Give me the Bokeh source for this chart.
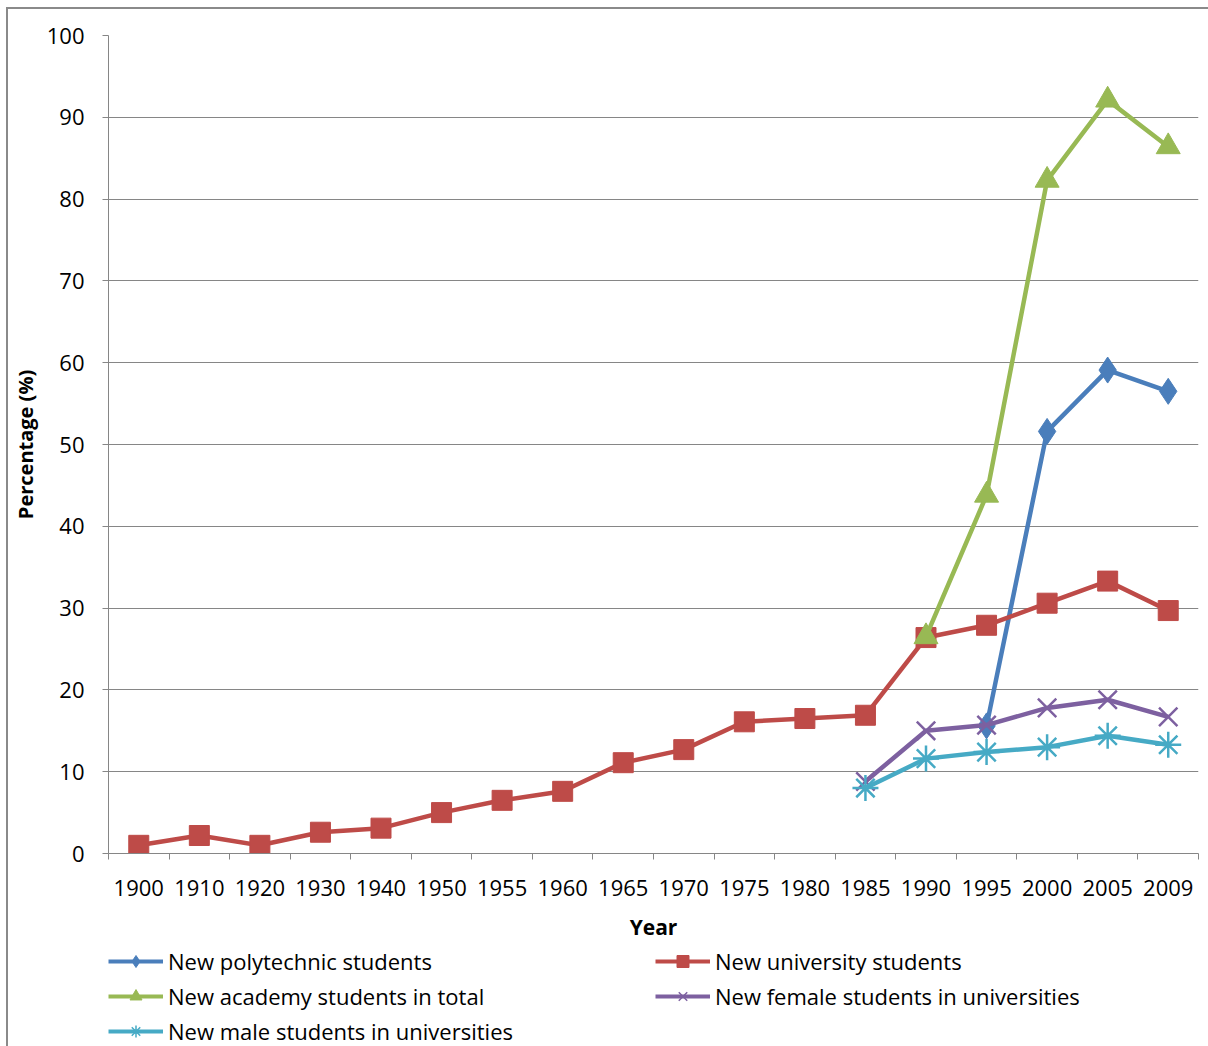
from bokeh.plotting import figure
from bokeh.layouts import column
from bokeh.models import Range1d, FixedTicker, Legend, LegendItem
from bokeh.embed import file_html
from bokeh.resources import INLINE

nan = float("nan")

years = ["1900", "1910", "1920", "1930", "1940", "1950", "1955", "1960", "1965",
         "1970", "1975", "1980", "1985", "1990", "1995", "2000", "2005", "2009"]

polytechnic = [nan] * 14 + [15.6, 51.6, 59.1, 56.5]
university = [1.0, 2.2, 1.0, 2.6, 3.1, 5.0, 6.5, 7.6, 11.1, 12.7, 16.1, 16.5,
              16.9, 26.4, 27.9, 30.6, 33.3, 29.7]
academy = [nan] * 13 + [26.5, 43.8, 82.3, 92.1, 86.4]
female = [nan] * 12 + [8.8, 15.0, 15.7, 17.8, 18.8, 16.7]
male = [nan] * 12 + [8.0, 11.6, 12.4, 13.0, 14.4, 13.3]

y_ticks = list(range(0, 101, 10))

FONT = "Open Sans"
GRAY = "#868686"

xs = list(range(len(years)))

p = figure(frame_width=1090, frame_height=818, output_backend="svg", toolbar_location=None,
           x_range=Range1d(-0.5, len(years) - 0.5), y_range=Range1d(0, 100))
p.min_border_left = 100
p.min_border_right = 10
p.min_border_top = 26
p.min_border_bottom = 0
p.outline_line_color = None
p.background_fill_color = "white"
p.border_fill_color = "white"

# axes
xa = p.xaxis[0]
xa.ticker = FixedTicker(ticks=xs, minor_ticks=[i - 0.5 for i in range(len(years) + 1)])
xa.major_label_overrides = {i: y for i, y in enumerate(years)}
xa.major_tick_out = 0
xa.major_tick_in = 0
xa.minor_tick_out = 6
xa.minor_tick_in = 0
xa.minor_tick_line_color = GRAY
xa.axis_line_color = GRAY
xa.major_label_standoff = 20
xa.major_label_text_font = FONT
xa.major_label_text_font_size = "22px"
xa.major_label_text_color = "#000000"
xa.axis_label = "Year"
xa.axis_label_text_font = FONT
xa.axis_label_text_font_size = "21px"
xa.axis_label_text_font_style = "bold"
xa.axis_label_text_color = "#000000"
xa.axis_label_standoff = 14

ya = p.yaxis[0]
ya.ticker = FixedTicker(ticks=y_ticks, minor_ticks=[])
ya.major_tick_out = 6
ya.major_tick_in = 0
ya.major_tick_line_color = GRAY
ya.axis_line_color = GRAY
ya.major_label_standoff = 18
ya.major_label_text_font = FONT
ya.major_label_text_font_size = "22px"
ya.major_label_text_color = "#000000"
ya.axis_label = "Percentage (%)"
ya.axis_label_text_font = FONT
ya.axis_label_text_font_size = "20px"
ya.axis_label_text_font_style = "bold"
ya.axis_label_text_color = "#000000"
ya.axis_label_standoff = 5

p.xgrid.visible = False
p.ygrid.ticker = FixedTicker(ticks=y_ticks)
p.ygrid.grid_line_color = GRAY
p.ygrid.grid_line_width = 1

series = [
    ("New polytechnic students", polytechnic, "#4A7EBB", "diamond", 26, None),
    ("New university students", university, "#BE4B48", "square", 20, None),
    ("New academy students in total", academy, "#98B954", "triangle", 24, None),
    ("New female students in universities", female, "#7D60A0", "x", 26, 2.5),
    ("New male students in universities", male, "#46AAC5", "asterisk", 26, 2.5),
]

# legend strip below the chart: its renderers reuse the series data but the
# strip's ranges keep those marks out of view, so only the legend shows.
lg = figure(frame_width=1090, frame_height=104, output_backend="svg", toolbar_location=None,
            x_range=Range1d(1000, 1001), y_range=Range1d(1000, 1001))
lg.min_border_left = 100
lg.min_border_right = 10
lg.min_border_top = 3
lg.min_border_bottom = 0
lg.axis.visible = False
lg.grid.visible = False
lg.outline_line_color = None
lg.border_fill_color = "white"

items = []
for label, vals, color, marker, size, mlw in series:
    p.line(xs, vals, line_color=color, line_width=4.5)
    if mlw is None:
        p.scatter(xs, vals, marker=marker, size=size,
                  fill_color=color, line_color=color, line_width=1)
        ls = lg.scatter(xs, vals, marker=marker, fill_color=color, line_color=color, line_width=1)
    else:
        p.scatter(xs, vals, marker=marker, size=size,
                  line_color=color, line_width=mlw)
        ls = lg.scatter(xs, vals, marker=marker, line_color=color, line_width=1.5)
    ll = lg.line(xs, vals, line_color=color, line_width=4)
    items.append(LegendItem(label=label, renderers=[ll, ls]))

legend = Legend(items=items, orientation="horizontal", ncols=2,
                location="top_left",
                label_text_font=FONT, label_text_font_size="22px",
                label_text_color="#000000",
                glyph_width=55, glyph_height=30, label_standoff=5,
                spacing=5, label_width=482, padding=2, margin=0,
                border_line_color=None, background_fill_alpha=0)
lg.add_layout(legend)

layout = column(p, lg, spacing=0)
layout.styles = {"margin-left": "6px", "margin-top": "7px",
                 "border-left": "2px solid #8a8a8a", "border-top": "2px solid #8a8a8a"}

open("out.html", "w").write(file_html(layout, INLINE))
